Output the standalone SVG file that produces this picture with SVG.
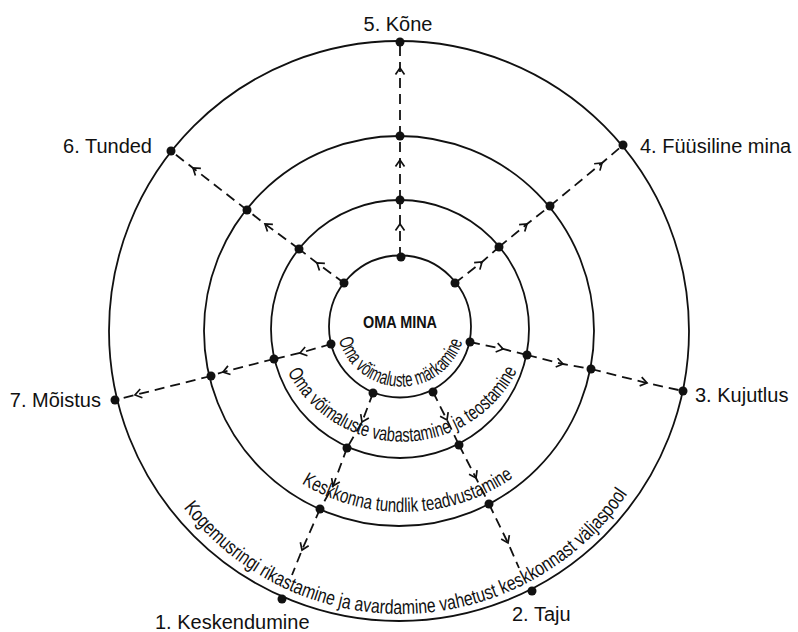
<svg xmlns="http://www.w3.org/2000/svg" width="798" height="632" viewBox="0 0 798 632">
<style>
.ring{fill:none;stroke:#111;stroke-width:1.8}
.con{fill:none;stroke:#111;stroke-width:1.8;stroke-dasharray:10 6;marker-mid:url(#chev)}
.dot{fill:#111}
.lbl{font-family:"Liberation Sans",Arial,sans-serif;font-size:20px;fill:#111}
.arc{font-family:"Liberation Sans",Arial,sans-serif;font-size:20px;fill:#111}
.ctr{font-family:"Liberation Sans",Arial,sans-serif;font-size:17px;font-weight:bold;fill:#111}
</style>
<defs>
<marker id="chev" markerUnits="userSpaceOnUse" markerWidth="14" markerHeight="14" viewBox="-10 -7 14 14" refX="0" refY="0" orient="auto" overflow="visible">
<path d="M-6.5,-4.5 L0,0 L-6.5,4.5" fill="none" stroke="#111" stroke-width="1.7"/>
</marker>
<path id="p1" d="M338.8,339.8 A64.7,64.7 0 0 0 462.5,342.0"/>
<path id="p2" d="M287.7,372.2 A128.7,128.7 0 0 0 517.1,370.6"/>
<path id="p3" d="M301.6,483.4 A194,194 0 0 0 513.7,477.3"/>
<path id="p4" d="M183.6,507.7 A274.5,274.5 0 0 0 627.5,493.8"/>
</defs>
<rect width="798" height="632" fill="#fff"/>
<g id="rings">
<circle class="ring" cx="399" cy="331" r="290"/>
<circle class="ring" cx="399" cy="331" r="195"/>
<circle class="ring" cx="400" cy="329" r="129"/>
<circle class="ring" cx="400" cy="326.5" r="71"/>
</g>
<g id="ring-labels">
<text class="arc" font-size="17"><textPath href="#p1" textLength="165" lengthAdjust="spacingAndGlyphs">Oma võimaluste märkamine</textPath></text>
<text class="arc"><textPath href="#p2" textLength="283" lengthAdjust="spacingAndGlyphs">Oma võimaluste vabastamine ja teostamine</textPath></text>
<text class="arc"><textPath href="#p3" textLength="224" lengthAdjust="spacingAndGlyphs">Keskkonna tundlik teadvustamine</textPath></text>
<text class="arc"><textPath href="#p4" textLength="517" lengthAdjust="spacingAndGlyphs">Kogemusringi rikastamine ja avardamine vahetust keskkonnast väljaspool</textPath></text>
</g>
<g id="connectors">
<path class="con" d="M400,257 L400,224 L400,200"/>
<path class="con" d="M400,200 L400,160 L400,136"/>
<path class="con" d="M400,136 L400,68 L400,42"/>
<path class="con" d="M455,283 L482,262 L499,247"/>
<path class="con" d="M499,247 L527,224 L550,206"/>
<path class="con" d="M550,206 L602,163 L623,145"/>
<path class="con" d="M344,283 L317,263 L299,249"/>
<path class="con" d="M299,249 L265,224 L247,210"/>
<path class="con" d="M247,210 L193,168 L171,151"/>
<path class="con" d="M331,344 L300,353 L274,359"/>
<path class="con" d="M274,359 L223,372 L211,376"/>
<path class="con" d="M211,376 L135,395 L115,400"/>
<path class="con" d="M470,342 L503,349 L527,355"/>
<path class="con" d="M527,355 L563,364 L591,369"/>
<path class="con" d="M591,369 L647,383 L683,391"/>
<path class="con" d="M373,393 L362,422 L347,448"/>
<path class="con" d="M347,448 L333,486 L320,509"/>
<path class="con" d="M320,509 L302,550 L292,575"/>
<path class="con" d="M433,392 L447,420 L459,445"/>
<path class="con" d="M459,445 L476,478 L489,504"/>
<path class="con" d="M489,504 L508,543 L519,568"/>
</g>
<g id="dots">
<circle class="dot" cx="401" cy="257" r="4.5"/>
<circle class="dot" cx="400" cy="200" r="4.5"/>
<circle class="dot" cx="400" cy="136" r="4.5"/>
<circle class="dot" cx="455" cy="283" r="4.5"/>
<circle class="dot" cx="499" cy="247" r="4.5"/>
<circle class="dot" cx="550" cy="206" r="4.5"/>
<circle class="dot" cx="344" cy="283" r="4.5"/>
<circle class="dot" cx="299" cy="249" r="4.5"/>
<circle class="dot" cx="247" cy="210" r="4.5"/>
<circle class="dot" cx="331" cy="344" r="4.5"/>
<circle class="dot" cx="274" cy="359" r="4.5"/>
<circle class="dot" cx="211" cy="376" r="4.5"/>
<circle class="dot" cx="470" cy="342" r="4.5"/>
<circle class="dot" cx="527" cy="355" r="4.5"/>
<circle class="dot" cx="591" cy="369" r="4.5"/>
<circle class="dot" cx="373" cy="393" r="4.5"/>
<circle class="dot" cx="347" cy="448" r="4.5"/>
<circle class="dot" cx="320" cy="509" r="4.5"/>
<circle class="dot" cx="433" cy="392" r="4.5"/>
<circle class="dot" cx="459" cy="445" r="4.5"/>
<circle class="dot" cx="489" cy="504" r="4.5"/>
</g>
<g id="node-center">
<text class="ctr" x="400" y="328" text-anchor="middle" textLength="74" lengthAdjust="spacingAndGlyphs">OMA MINA</text>
</g>
<g id="node-1">
<circle class="dot" cx="282" cy="599" r="4.5"/>
<text class="lbl" x="155" y="629">1. Keskendumine</text>
</g>
<g id="node-2">
<circle class="dot" cx="532" cy="591" r="4.5"/>
<text class="lbl" x="512" y="621">2. Taju</text>
</g>
<g id="node-3">
<circle class="dot" cx="683" cy="391" r="4.5"/>
<text class="lbl" x="695" y="402">3. Kujutlus</text>
</g>
<g id="node-4">
<circle class="dot" cx="623" cy="145" r="4.5"/>
<text class="lbl" x="640" y="153">4. Füüsiline mina</text>
</g>
<g id="node-5">
<circle class="dot" cx="400" cy="42" r="4.5"/>
<text class="lbl" x="398" y="31" text-anchor="middle">5. Kõne</text>
</g>
<g id="node-6">
<circle class="dot" cx="171" cy="151" r="4.5"/>
<text class="lbl" x="152" y="153" text-anchor="end">6. Tunded</text>
</g>
<g id="node-7">
<circle class="dot" cx="115" cy="400" r="4.5"/>
<text class="lbl" x="101" y="407" text-anchor="end">7. Mõistus</text>
</g>
</svg>
